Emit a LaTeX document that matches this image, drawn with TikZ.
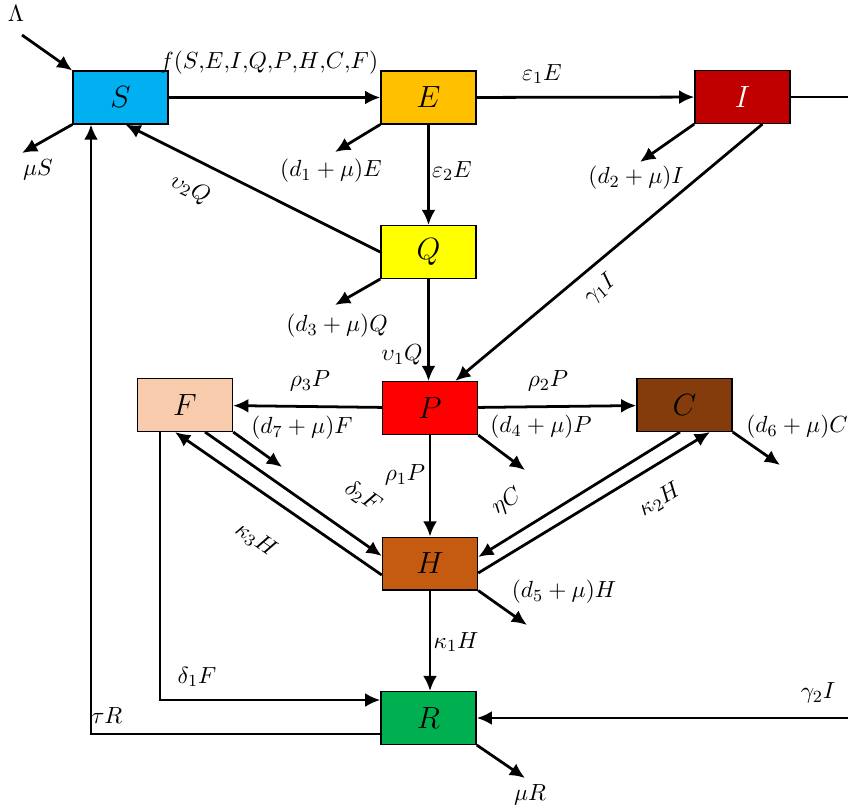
\documentclass[tikz,border=0pt]{standalone}
\usepackage{tikz}
\usetikzlibrary{calc,arrows.meta}
\definecolor{colS}{HTML}{00B0F0}
\definecolor{colE}{HTML}{FFC000}
\definecolor{colI}{HTML}{C00000}
\definecolor{colQ}{HTML}{FFFF00}
\definecolor{colP}{HTML}{FF0000}
\definecolor{colF}{HTML}{F8CBAD}
\definecolor{colC}{HTML}{843C0C}
\definecolor{colH}{HTML}{C55A11}
\definecolor{colR}{HTML}{00B050}

\begin{document}
\begin{tikzpicture}[x=0.0165cm, y=-0.0165cm,
	box/.style={draw=black, line width=0.6pt, minimum width=1.57cm, minimum height=0.87cm, inner sep=0pt, font=\Large},
	flow/.style={line width=1.3pt, -{Latex[length=2.5mm,width=2.3mm]}},
	lbl/.style={font=\fontsize{11pt}{13pt}\selectfont, inner sep=1pt}]
			%%%%% START %%%%%
			
			\useasboundingbox (0, 0) rectangle (848, 808);
			
			\node[box, fill=colS] (S) at (120.5, 97.5) {$S$};
			\node[box, fill=colE] (E) at (428.5, 97.5) {$E$};
			\node[box, fill=colI, text=white] (I) at (742.5, 97) {$I$};
			\node[box, fill=colQ] (Q) at (428.5, 252) {$Q$};
			\node[box, fill=colP] (P) at (430, 408) {$P$};
			\node[box, fill=colF] (F) at (185, 405) {$F$};
			\node[box, fill=colC] (C) at (684.5, 405) {$C$};
			\node[box, fill=colH] (H) at (430, 563.5) {$H$};
			\node[box, fill=colR] (R) at (428.5, 718) {$R$};
			
			\coordinate (lam) at (22, 35);
			\coordinate (outS) at (22, 153);
			\coordinate (outE) at (335, 152);
			\coordinate (outI) at (640, 162);
			\coordinate (outQ) at (335, 305);
			\coordinate (outP) at (525, 470);
			\coordinate (outF) at (282, 467);
			\coordinate (outC) at (780, 465);
			\coordinate (outH) at (527, 625);
			\coordinate (outR) at (525, 778);
			
			\draw[flow] (lam) -- (S.north west);
			\draw[flow] (S) -- (E);
			\draw[flow] (E) -- (I);
			\draw[flow] (E) -- (Q);
			\draw[flow] (Q.south) -- (P.north -| Q.south);
			\draw[flow] (P) -- (H);
			\draw[flow] (H.south) -- (R.north -| H.south);
			\draw[flow] (P) -- (F);
			\draw[flow] (P) -- (C);
			
			\draw[flow] (S.south west) -- (outS);
			\draw[flow] (E.south west) -- (outE);
			\draw[flow] (I.south west) -- (outI);
			\draw[flow] (Q.south west) -- (outQ);
			\draw[flow] (P.south east) -- (outP);
			\draw[flow] (F.south east) -- (outF);
			\draw[flow] (C.south east) -- (outC);
			\draw[flow] (H.south east) -- (outH);
			\draw[flow] (R.south east) -- (outR);
			
			\draw[flow] (Q.west) -- ($(S.south)+(5, 0)$);
			\draw[flow] ($(I.south)+(20, 0)$) -- ($(P.north east)+(-23, 0)$);
			
			\draw[flow] ($(F.south)+(20, 0)$) -- ($(H.west)+(0, -7.5)$);
			\draw[flow] ($(H.west)+(0, 11.5)$) -- ($(F.south)+(-10, 0)$);
			\draw[flow] ($(C.south)+(-4.5, 0)$) -- ($(H.east)+(0, -6.5)$);
			\draw[flow] ($(H.east)+(0, 9.5)$) -- ($(C.south)+(25.5, 0)$);
			
			\draw[flow] ($(F.south)+(-25, 0)$) |- ($(R.west)+(0, -18)$);
			\draw[flow] ($(R.west)+(0, 16)$) -| ($(S.south)+(-29.5, 0)$);
			\draw[flow] (I.east) -- ++(120, 0) |- (R.east);
			
			\node[lbl] (tLam) at (16, 14) {$\Lambda$};
			\node[lbl] (tf) at (269, 63) {$f(S{,}E{,}I{,}Q{,}P{,}H{,}C{,}F)$};
			\node[lbl] (tmuS) at (38, 170) {$\mu S$};
			\node[lbl] (te1) at (542, 74) {$\varepsilon_1 E$};
			\node[lbl] (te2) at (452, 171) {$\varepsilon_2 E$};
			\node[lbl] (td1) at (331, 171) {$(d_1+\mu)E$};
			\node[lbl] (td2) at (636, 178) {$(d_2+\mu)I$};
			\node[lbl] (td3) at (337, 326) {$(d_3+\mu)Q$};
			\node[lbl] (td4) at (541, 427) {$(d_4+\mu)P$};
			\node[lbl] (td5) at (564, 592) {$(d_5+\mu)H$};
			\node[lbl] (td6) at (797, 427) {$(d_6+\mu)C$};
			\node[lbl] (td7) at (302, 428) {$(d_7+\mu)F$};
			\node[lbl, rotate=-26] (tv2) at (190, 189) {$\upsilon_2 Q$};
			\node[lbl, rotate=40] (tg1) at (600, 289) {$\gamma_1 I$};
			\node[lbl] (tv1) at (402, 355) {$\upsilon_1 Q$};
			\node[lbl] (tr3) at (310, 381) {$\rho_3 P$};
			\node[lbl] (tr2) at (548, 381) {$\rho_2 P$};
			\node[lbl] (tr1) at (405, 475) {$\rho_1 P$};
			\node[lbl, rotate=-35] (td2F) at (363, 497) {$\delta_2 F$};
			\node[lbl, rotate=-35] (tk3) at (256, 540) {$\kappa_3 H$};
			\node[lbl, rotate=32] (teta) at (507, 502) {$\eta C$};
			\node[lbl, rotate=31] (tk2) at (660, 500) {$\kappa_2 H$};
			\node[lbl] (tk1) at (456, 642) {$\kappa_1 H$};
			\node[lbl] (td1F) at (197, 677) {$\delta_1 F$};
			\node[lbl] (ttau) at (107, 716) {$\tau R$};
			\node[lbl] (tg2) at (818, 693) {$\gamma_2 I$};
			\node[lbl] (tmuR) at (530, 795) {$\mu R$};
			
			%%%%% END %%%%%
		\end{tikzpicture}
\end{document}
